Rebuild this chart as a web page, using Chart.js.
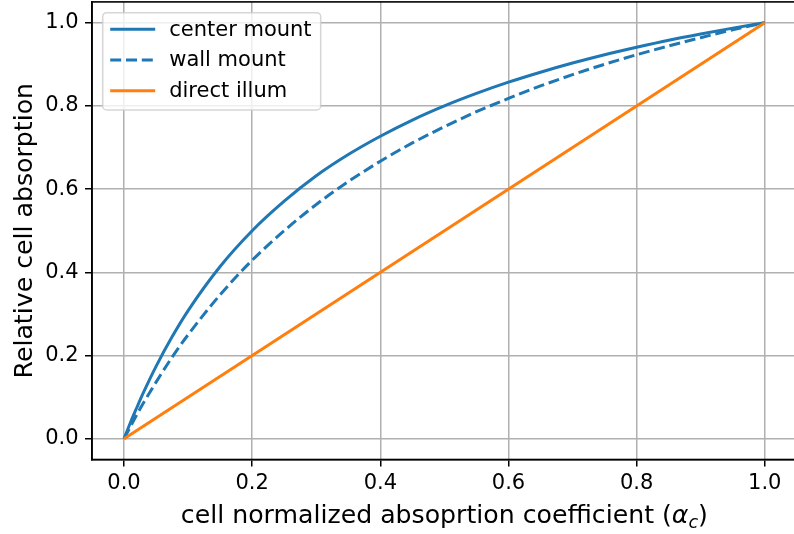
<!DOCTYPE html>
<html>
<head>
<meta charset="utf-8">
<script src="https://cdn.jsdelivr.net/npm/chart.js@4/dist/chart.umd.min.js"></script>
<style>
  html, body { margin: 0; padding: 0; background: #fff; overflow: hidden; }
  canvas { display: block; }
</style>
</head>
<body>
<canvas id="myChart" width="800" height="534"></canvas>
<script>
// absorption curves vs normalized absorption coefficient
const alphaC = [0, 0.01, 0.02, 0.03, 0.05, 0.075, 0.1, 0.15, 0.2, 0.25, 0.3, 0.35, 0.4, 0.45, 0.5,
                0.55, 0.6, 0.65, 0.7, 0.75, 0.8, 0.85, 0.9, 0.95, 1.0];
const centerMount = [0, 0.039, 0.075, 0.110, 0.174, 0.245, 0.308, 0.414, 0.500, 0.571, 0.632, 0.683, 0.727, 0.766, 0.800,
                     0.830, 0.857, 0.881, 0.903, 0.923, 0.941, 0.958, 0.973, 0.987, 1.0];
const wallMount = [0, 0.029, 0.058, 0.085, 0.136, 0.196, 0.250, 0.346, 0.429, 0.500, 0.563, 0.618, 0.667, 0.711, 0.750,
                   0.786, 0.818, 0.848, 0.875, 0.900, 0.923, 0.944, 0.964, 0.983, 1.0];
const directX = [0, 1.0];
const directIllum = [0, 1.0];
const tickVals = [0, 0.2, 0.4, 0.6, 0.8, 1.0];

const FONT = '"DejaVu Sans", sans-serif';
const BLUE = '#1f77b4';
const ORANGE = '#ff7f0e';

function pts(xs, ys) {
  return xs.map((x, i) => ({x: x, y: ys[i]}));
}

// box, legend and axis titles drawn on top of the plot
const frame = {
  id: 'frame',
  afterDraw(chart) {
    const ctx = chart.ctx;
    const a = chart.chartArea;
    ctx.save();

    // spines
    ctx.strokeStyle = '#000';
    ctx.lineWidth = 1.6;
    ctx.strokeRect(a.left, a.top, a.right - a.left, a.bottom - a.top);

    // legend
    const lx = a.left + 10.7, ly = a.top + 10.8, lw = 218, lh = 97.3;
    ctx.beginPath();
    ctx.roundRect(lx, ly, lw, lh, 4);
    ctx.fillStyle = 'rgba(255,255,255,0.8)';
    ctx.fill();
    ctx.strokeStyle = 'rgba(204,204,204,0.8)';
    ctx.lineWidth = 1.5;
    ctx.stroke();
    ctx.font = '21px ' + FONT;
    ctx.textBaseline = 'middle';
    ctx.textAlign = 'left';
    chart.data.datasets.forEach((ds, i) => {
      const y = ly + 16.6 + i * 30.7;
      ctx.beginPath();
      ctx.setLineDash(ds.borderDash || []);
      ctx.strokeStyle = ds.borderColor;
      ctx.lineWidth = ds.borderWidth;
      ctx.moveTo(lx + 7.5, y);
      ctx.lineTo(lx + 52.5, y);
      ctx.stroke();
      ctx.setLineDash([]);
      ctx.fillStyle = '#000';
      ctx.fillText(ds.label, lx + 66.5, y + 1);
    });

    // x title with math alpha_c
    const cx = (a.left + a.right) / 2;
    const by = 523;
    const part1 = 'cell normalized absoprtion coefficient (';
    ctx.textBaseline = 'alphabetic';
    ctx.font = '25.2px ' + FONT;
    const w1 = ctx.measureText(part1).width;
    const w4 = ctx.measureText(')').width;
    ctx.font = 'oblique 25.2px ' + FONT;
    const w2 = ctx.measureText('\u03b1').width;
    ctx.font = 'oblique 17.6px ' + FONT;
    const w3 = ctx.measureText('c').width;
    let x = cx - (w1 + w2 + w3 + w4) / 2;
    ctx.fillStyle = '#000';
    ctx.font = '25.2px ' + FONT;
    ctx.fillText(part1, x, by); x += w1;
    ctx.font = 'oblique 25.2px ' + FONT;
    ctx.fillText('\u03b1', x, by); x += w2;
    ctx.font = 'oblique 17.6px ' + FONT;
    ctx.fillText('c', x, by + 4.8); x += w3;
    ctx.font = '25.2px ' + FONT;
    ctx.fillText(')', x, by);

    // y title
    ctx.translate(31.5, (a.top + a.bottom) / 2);
    ctx.rotate(-Math.PI / 2);
    ctx.textAlign = 'center';
    ctx.fillText('Relative cell absorption', 0, 0);
    ctx.restore();
  }
};

const ch = document.getElementById('myChart');
new Chart(ch, {
  type: 'line',
  data: {
    datasets: [{
      label: 'center mount',
      data: pts(alphaC, centerMount),
      borderColor: BLUE,
      backgroundColor: BLUE,
      borderWidth: 3,
      cubicInterpolationMode: 'monotone',
      order: 2
    }, {
      label: 'wall mount',
      data: pts(alphaC, wallMount),
      borderColor: BLUE,
      backgroundColor: BLUE,
      borderWidth: 3,
      borderDash: [11, 4.8],
      cubicInterpolationMode: 'monotone',
      order: 1
    }, {
      label: 'direct illum',
      data: pts(directX, directIllum),
      borderColor: ORANGE,
      backgroundColor: ORANGE,
      borderWidth: 3,
      order: 0
    }]
  },
  options: {
    responsive: false,
    animation: false,
    devicePixelRatio: 1,
    layout: { padding: { top: 1.9, right: 3.2, left: 0, bottom: 0 } },
    elements: { point: { radius: 0 }, line: { fill: false } },
    plugins: { legend: { display: false }, tooltip: { enabled: false } },
    scales: {
      x: {
        type: 'linear',
        min: -0.05,
        max: 1.05,
        afterBuildTicks(scale) { scale.ticks = tickVals.map(v => ({value: v})); },
        afterFit(scale) { scale.height = 74.5; scale.paddingLeft = 0; scale.paddingRight = 0; },
        ticks: {
          includeBounds: false,
          maxRotation: 0,
          autoSkip: false,
          padding: 4,
          color: '#000',
          font: { family: FONT, size: 21 },
          callback: v => v.toFixed(1)
        },
        grid: { color: '#b0b0b0', lineWidth: 1.5, tickColor: '#000', tickWidth: 1.5, tickLength: 7 },
        border: { display: true, color: '#000', width: 1.6 }
      },
      y: {
        type: 'linear',
        min: -0.05,
        max: 1.05,
        afterBuildTicks(scale) { scale.ticks = tickVals.map(v => ({value: v})); },
        afterFit(scale) { scale.width = 92; scale.paddingTop = 0; scale.paddingBottom = 0; },
        ticks: {
          includeBounds: false,
          autoSkip: false,
          padding: 6.4,
          color: '#000',
          font: { family: FONT, size: 21 },
          callback: v => v.toFixed(1)
        },
        grid: { color: '#b0b0b0', lineWidth: 1.5, tickColor: '#000', tickWidth: 1.5, tickLength: 7 },
        border: { display: true, color: '#000', width: 1.6 }
      }
    }
  },
  plugins: [frame]
});
</script>
</body>
</html>
